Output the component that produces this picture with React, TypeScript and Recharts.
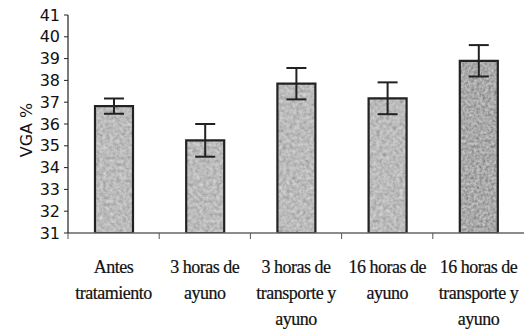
import { BarChart, Bar, XAxis, YAxis, ErrorBar, Cell } from "recharts";

const categories = [
  ["Antes", "tratamiento"],
  ["3 horas de", "ayuno"],
  ["3 horas de", "transporte y", "ayuno"],
  ["16 horas de", "ayuno"],
  ["16 horas de", "transporte y", "ayuno"],
];
const vgaValues = [36.82, 35.25, 37.85, 37.18, 38.9];
const vgaErrors = [0.35, 0.75, 0.72, 0.73, 0.72];
const yTicks = [31, 32, 33, 34, 35, 36, 37, 38, 39, 40, 41];
const barTextures = ["grainLight", "grainLight", "grainLight", "grainLight", "grainDark"];

const data = categories.map((lines, i) => ({
  name: lines.join(" "),
  lines,
  vga: vgaValues[i],
  err: vgaErrors[i],
}));

/* category label with a boundary tick on its left edge */
function CategoryTick(props: any) {
  const { x, y, payload, index } = props;
  const offset = payload?.offset ?? 0;
  const axisY = y - 6;
  const lines = data[index]?.lines ?? [payload.value];
  return (
    <g>
      <line x1={x - offset} x2={x - offset} y1={axisY} y2={axisY + 6} stroke="#555" strokeWidth={1} />
      <text
        x={x}
        textAnchor="middle"
        fontFamily="'Liberation Serif', serif"
        fontSize={18}
        letterSpacing={-0.5}
        fill="#111"
        stroke="#111"
        strokeWidth={0.2}
      >
        {lines.map((l: string, i: number) => (
          <tspan key={i} x={x} y={axisY + 40 + i * 26}>
            {l}
          </tspan>
        ))}
      </text>
    </g>
  );
}

export default function App() {
  return (
    <div style={{ position: "absolute", left: 0, top: 0, background: "#fff" }}>
      <BarChart
        width={524}
        height={333}
        data={data}
        margin={{ top: 15, right: 0, left: 0, bottom: 0 }}
      >
        <defs>
          <filter id="noiseL" x="0" y="0" width="100%" height="100%">
            <feTurbulence type="fractalNoise" baseFrequency="0.3" numOctaves="3" seed="4" />
            <feColorMatrix type="saturate" values="0" />
            <feComponentTransfer>
              <feFuncR type="linear" slope="0.6" intercept="0.2" />
              <feFuncG type="linear" slope="0.6" intercept="0.2" />
              <feFuncB type="linear" slope="0.6" intercept="0.2" />
              <feFuncA type="linear" slope="0" intercept="1" />
            </feComponentTransfer>
          </filter>
          <filter id="noiseD" x="0" y="0" width="100%" height="100%">
            <feTurbulence type="fractalNoise" baseFrequency="0.35" numOctaves="3" seed="9" />
            <feColorMatrix type="saturate" values="0" />
            <feComponentTransfer>
              <feFuncR type="linear" slope="0.7" intercept="0.05" />
              <feFuncG type="linear" slope="0.7" intercept="0.05" />
              <feFuncB type="linear" slope="0.7" intercept="0.05" />
              <feFuncA type="linear" slope="0" intercept="1" />
            </feComponentTransfer>
          </filter>
          <pattern id="grainLight" patternUnits="userSpaceOnUse" width="524" height="333">
            <rect width="524" height="333" filter="url(#noiseL)" />
          </pattern>
          <pattern id="grainDark" patternUnits="userSpaceOnUse" width="524" height="333">
            <rect width="524" height="333" filter="url(#noiseD)" />
          </pattern>
        </defs>

        <XAxis
          dataKey="name"
          height={100}
          axisLine={{ stroke: "#666", strokeWidth: 1.5 }}
          tickLine={false}
          tickSize={6}
          tickMargin={0}
          interval={0}
          tick={<CategoryTick />}
        />
        <YAxis
          width={68}
          domain={[31, 41]}
          ticks={yTicks}
          interval={0}
          allowDataOverflow
          axisLine={{ stroke: "#222", strokeWidth: 1.2 }}
          tickLine={{ stroke: "#222" }}
          tickSize={4}
          tickMargin={4}
          tick={{ fontFamily: "'DejaVu Sans', sans-serif", fontSize: 16, fill: "#111" }}
          label={{
            value: "VGA %",
            angle: -90,
            position: "center",
            dx: -8,
            dy: 6,
            style: { fontFamily: "'DejaVu Sans', sans-serif", fontSize: 16, fill: "#111" },
          }}
        />
        <Bar
          dataKey="vga"
          barSize={38}
          stroke="#222"
          strokeWidth={2.2}
          isAnimationActive={false}
        >
          {data.map((_, i) => (
            <Cell key={i} fill={`url(#${barTextures[i]})`} />
          ))}
          <ErrorBar dataKey="err" width={10} stroke="#222" strokeWidth={2} />
        </Bar>
      </BarChart>
    </div>
  );
}
